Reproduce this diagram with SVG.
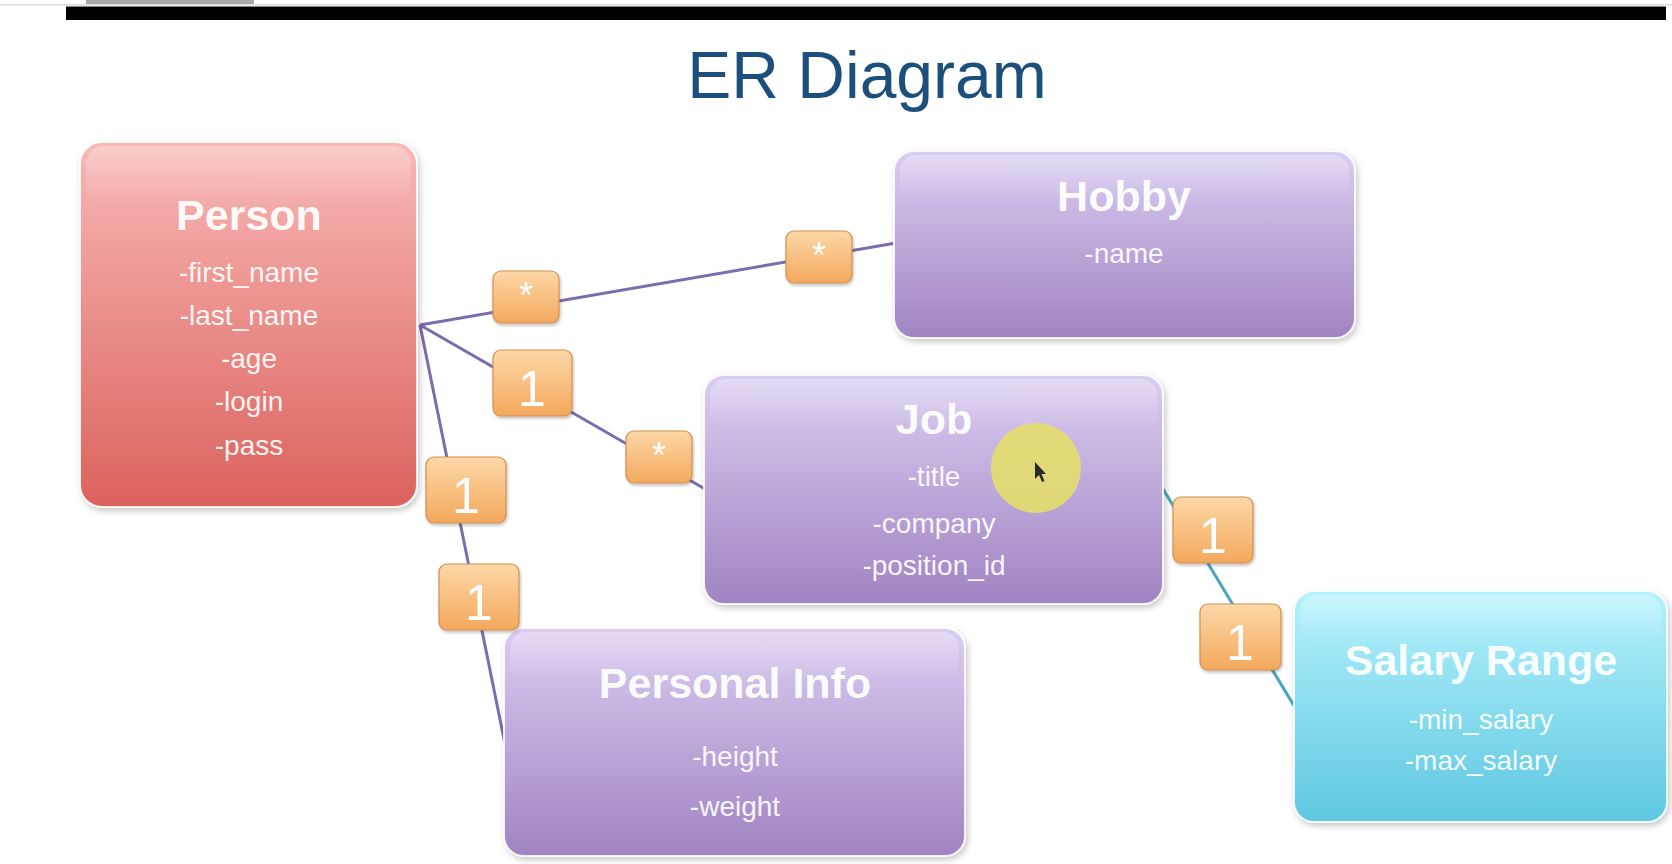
<svg xmlns="http://www.w3.org/2000/svg" width="1672" height="864" viewBox="0 0 1672 864">
  <defs>
    <linearGradient id="gPerson" x1="0" y1="0" x2="0" y2="1">
      <stop offset="0" stop-color="#f8b8b6"/>
      <stop offset="1" stop-color="#db625d"/>
    </linearGradient>
    <linearGradient id="gPurple" x1="0" y1="0" x2="0" y2="1">
      <stop offset="0" stop-color="#dacdf1"/>
      <stop offset="1" stop-color="#a084c2"/>
    </linearGradient>
    <linearGradient id="gCyan" x1="0" y1="0" x2="0" y2="1">
      <stop offset="0" stop-color="#b5f2fc"/>
      <stop offset="1" stop-color="#5ec7e1"/>
    </linearGradient>
    <linearGradient id="gBadge" x1="0" y1="0" x2="0" y2="1">
      <stop offset="0" stop-color="#fdd8a8"/>
      <stop offset="1" stop-color="#f3a85c"/>
    </linearGradient>
    <linearGradient id="gGloss" x1="0" y1="0" x2="0" y2="1">
      <stop offset="0" stop-color="#ffffff" stop-opacity="0.3"/>
      <stop offset="1" stop-color="#ffffff" stop-opacity="0"/>
    </linearGradient>
    <filter id="shadow" x="-10%" y="-10%" width="120%" height="125%">
      <feDropShadow dx="2" dy="3" stdDeviation="3" flood-color="#000000" flood-opacity="0.22"/>
    </filter>
    <filter id="bshadow" x="-20%" y="-20%" width="140%" height="150%">
      <feDropShadow dx="1" dy="2" stdDeviation="1.5" flood-color="#000000" flood-opacity="0.25"/>
    </filter>
  </defs>
  <style>
    .node { stroke: #ffffff; stroke-opacity: 0.85; stroke-width: 2; filter: url(#shadow); }
    .gloss { fill: url(#gGloss); }
    .title { font-family: "Liberation Sans", Arial, sans-serif; font-weight: bold; font-size: 43px; fill: #ffffff; fill-opacity: 0.95; text-anchor: middle; }
    .attr { font-family: "Liberation Sans", Arial, sans-serif; font-size: 28px; fill: #ffffff; fill-opacity: 0.93; text-anchor: middle; }
    .conn { stroke: #7a6cad; stroke-width: 3; fill: none; }
    .conn2 { stroke: #49a7bd; stroke-width: 3; fill: none; }
    .badge { fill: url(#gBadge); stroke: #d28f4f; stroke-width: 1.2; filter: url(#bshadow); }
    .blabel { font-family: "Liberation Sans", Arial, sans-serif; font-size: 50px; fill: #ffffff; text-anchor: middle; }
    .star { font-family: "Liberation Sans", Arial, sans-serif; font-size: 36px; fill: #ffffff; text-anchor: middle; }
  </style>

  <rect x="0" y="0" width="1672" height="864" fill="#ffffff"/>

  <!-- top decorations -->
  <g id="header">
    <rect x="0" y="4" width="1672" height="1.5" fill="#dcdcdc"/>
    <rect x="86" y="0" width="168" height="4" fill="#a9a9a9"/>
    <rect x="66" y="6.5" width="1600" height="13.5" fill="#000000"/>
    <text x="867" y="98" font-family="Liberation Sans, Arial, sans-serif" font-size="66" fill="#1d4f7c" text-anchor="middle">ER Diagram</text>
  </g>

  <!-- connectors -->
  <g id="connectors">
    <line class="conn" x1="420" y1="325" x2="896" y2="243"/>
    <line class="conn" x1="420" y1="325" x2="705" y2="489"/>
    <line class="conn" x1="420" y1="325" x2="505" y2="744"/>
    <line class="conn2" x1="1160" y1="484" x2="1296" y2="709"/>
  </g>

  <!-- nodes -->
  <g id="person">
    <rect class="node" x="80" y="142" width="337" height="365" rx="22" fill="url(#gPerson)"/>
    <rect class="gloss" x="86" y="146" width="325" height="60" rx="18"/>
    <text class="title" x="249" y="230">Person</text>
    <text class="attr" x="249" y="282">-first_name</text>
    <text class="attr" x="249" y="325">-last_name</text>
    <text class="attr" x="249" y="368">-age</text>
    <text class="attr" x="249" y="411">-login</text>
    <text class="attr" x="249" y="455">-pass</text>
  </g>

  <g id="hobby">
    <rect class="node" x="894" y="151" width="461" height="187" rx="20" fill="url(#gPurple)"/>
    <rect class="gloss" x="900" y="155" width="449" height="45" rx="16"/>
    <text class="title" x="1124" y="211">Hobby</text>
    <text class="attr" x="1124" y="263">-name</text>
  </g>

  <g id="job">
    <rect class="node" x="704" y="375" width="459" height="229" rx="20" fill="url(#gPurple)"/>
    <rect class="gloss" x="710" y="379" width="447" height="50" rx="16"/>
    <text class="title" x="934" y="434">Job</text>
    <text class="attr" x="934" y="486">-title</text>
    <text class="attr" x="934" y="533">-company</text>
    <text class="attr" x="934" y="575">-position_id</text>
  </g>

  <g id="personal-info">
    <rect class="node" x="504" y="628" width="461" height="228" rx="20" fill="url(#gPurple)"/>
    <rect class="gloss" x="510" y="632" width="449" height="50" rx="16"/>
    <text class="title" x="735" y="698">Personal Info</text>
    <text class="attr" x="735" y="766">-height</text>
    <text class="attr" x="735" y="816">-weight</text>
  </g>

  <g id="salary-range">
    <rect class="node" x="1294" y="591" width="373" height="231" rx="20" fill="url(#gCyan)"/>
    <rect class="gloss" x="1300" y="595" width="361" height="50" rx="16"/>
    <text class="title" x="1481" y="675">Salary Range</text>
    <text class="attr" x="1481" y="729">-min_salary</text>
    <text class="attr" x="1481" y="770">-max_salary</text>
  </g>

  <!-- cursor highlight -->
  <g id="cursor">
    <circle cx="1036" cy="468" r="45" fill="#e4dd6c" fill-opacity="0.9"/>
    <path d="M1035,462 L1035,479 L1039,475 L1042,482 L1044.5,481 L1041.5,474 L1046,474 Z" fill="#2a2a2a"/>
  </g>

  <!-- connector cardinality labels -->
  <g id="connector-labels">
    <rect class="badge" x="493" y="271" width="66" height="52" rx="8"/>
    <text class="star" x="526" y="308">*</text>
    <rect class="badge" x="786" y="231" width="66" height="52" rx="8"/>
    <text class="star" x="819" y="268">*</text>
    <rect class="badge" x="493" y="350" width="79" height="66" rx="8"/>
    <text class="blabel" x="532" y="406">1</text>
    <rect class="badge" x="626" y="431" width="66" height="52" rx="8"/>
    <text class="star" x="659" y="468">*</text>
    <rect class="badge" x="426" y="457" width="80" height="66" rx="8"/>
    <text class="blabel" x="466" y="513">1</text>
    <rect class="badge" x="439" y="564" width="80" height="66" rx="8"/>
    <text class="blabel" x="479" y="620">1</text>
    <rect class="badge" x="1173" y="497" width="80" height="66" rx="8"/>
    <text class="blabel" x="1213" y="553">1</text>
    <rect class="badge" x="1200" y="604" width="81" height="66" rx="8"/>
    <text class="blabel" x="1240" y="660">1</text>
  </g>
</svg>
